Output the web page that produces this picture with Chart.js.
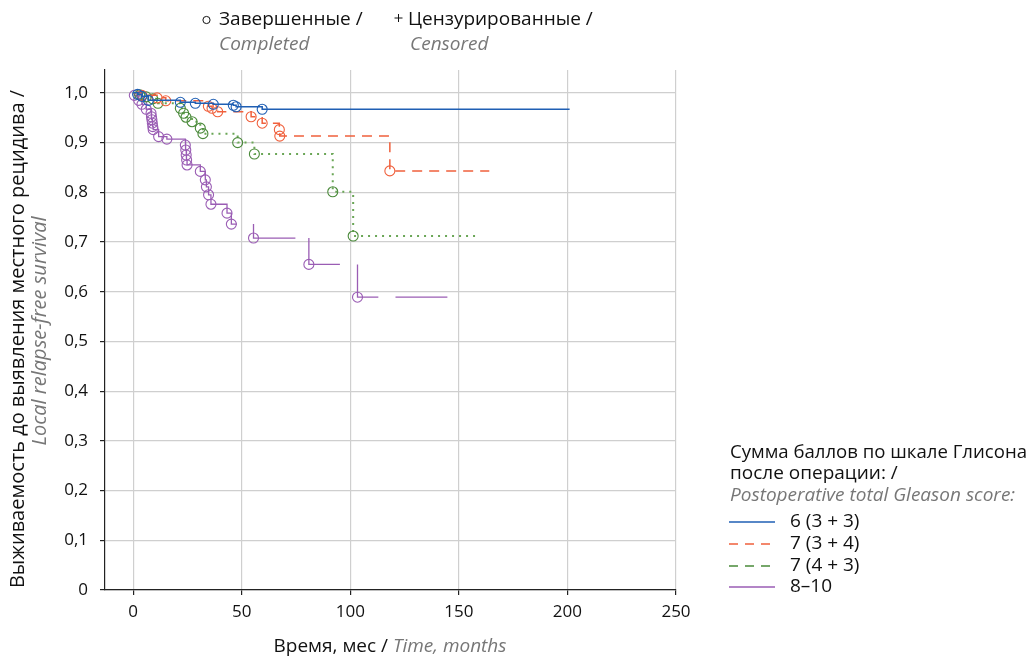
<!DOCTYPE html>
<html><head><meta charset="utf-8">
<script src="https://cdn.jsdelivr.net/npm/chart.js@4.4.1/dist/chart.umd.min.js"></script>
<style>html,body{margin:0;padding:0;background:#fff;}#wrap{width:1030px;height:657px;position:relative;}</style>
</head><body><div id="wrap"><canvas id="c" width="1030" height="657"></canvas></div>
<script>
const FONT = '"Open Sans", "Noto Sans", sans-serif';

// ---- data ----
const xTicks = [0, 50, 100, 150, 200, 250];
const xTickLabels = ['0', '50', '100', '150', '200', '250'];
const yTicks = [0, 0.1, 0.2, 0.3, 0.4, 0.5, 0.6, 0.7, 0.8, 0.9, 1.0];
const yTickLabels = ['0', '0,1', '0,2', '0,3', '0,4', '0,5', '0,6', '0,7', '0,8', '0,9', '1,0'];

const seriesNames = ['6 (3 + 3)', '7 (3 + 4)', '7 (4 + 3)', '8–10'];

const blueT = [2, 4, 7, 21.7, 28.6, 36.9, 46.1, 47.4, 59.4];
const blueS = [0.997, 0.993, 0.985, 0.981, 0.979, 0.977, 0.975, 0.972, 0.967];
const blueEnd = 201;

const redT = [4, 11, 15, 34.6, 36.3, 38.9, 54.3, 59.4, 67.3, 67.5, 118.2];
const redS = [0.995, 0.99, 0.984, 0.973, 0.969, 0.962, 0.952, 0.939, 0.926, 0.913, 0.843];
const redEnd = 164;

const greenT = [3, 6, 9, 11.4, 21.7, 23.2, 24.3, 27.1, 30.9, 32.1, 48.1, 55.8, 91.9, 101.3];
const greenS = [0.996, 0.992, 0.988, 0.979, 0.969, 0.959, 0.951, 0.942, 0.929, 0.918, 0.900, 0.877, 0.801, 0.712];
const greenEnd = 158.5;

const purpleT = [0.5, 2.5, 4, 6, 8.2, 8.4, 8.6, 8.8, 9, 9.2, 11.7, 15.5, 24, 24.2, 24.4, 24.6, 24.8, 30.9, 33.2, 33.7, 34.7, 35.8, 43.2, 45.2, 55.4, 80.9, 103.3];
const purpleS = [0.995, 0.985, 0.977, 0.967, 0.959, 0.952, 0.946, 0.939, 0.932, 0.926, 0.912, 0.907, 0.895, 0.885, 0.875, 0.865, 0.855, 0.842, 0.825, 0.811, 0.795, 0.776, 0.758, 0.736, 0.708, 0.655, 0.589];
const purpleEnd = 144.7;
const purpleGaps = [[47.8, 55.4], [74.7, 80.9], [95.2, 103.3], [112.9, 120.8]];

// ---- build ----
function stepPoints(T, S, endT) {
  const pts = [{x: 0, y: 1}];
  let prev = 1;
  for (let i = 0; i < T.length; i++) {
    pts.push({x: T[i], y: prev});
    pts.push({x: T[i], y: S[i]});
    prev = S[i];
  }
  pts.push({x: endT, y: prev});
  return pts;
}
function applyGaps(pts, gaps) {
  gaps.forEach(([a, b]) => {
    for (let k = 0; k < pts.length - 1; k++) {
      const p = pts[k], q = pts[k + 1];
      if (p.y !== null && q.y !== null && p.y === q.y && p.x <= a && q.x >= b) {
        pts.splice(k + 1, 0, {x: a, y: p.y}, {x: (a + b) / 2, y: null}, {x: b, y: p.y});
        break;
      }
    }
  });
  return pts;
}
const circ = (T, S) => T.map((t, i) => ({x: t, y: S[i]}));

const C = {
  blue: '#1f5fb4', red: '#f0603c', greenLine: '#6aa656', greenPt: '#4a8a3a', purple: '#9a5db4'
};

function lineDs(data, color, width, dash) {
  return {data, borderColor: color, borderWidth: width, borderDash: dash, pointRadius: 0,
    fill: false, tension: 0, spanGaps: false};
}
function ptDs(data, color) {
  return {data, showLine: false, pointRadius: 5, pointBorderWidth: 1.1, pointStyle: 'circle',
    pointBorderColor: color, pointBackgroundColor: 'rgba(0,0,0,0)', borderColor: color};
}

const datasets = [
  ptDs(circ(blueT, blueS), C.blue),
  lineDs(stepPoints(blueT, blueS, blueEnd), C.blue, 1.5, []),
  ptDs(circ(redT, redS), C.red),
  lineDs(stepPoints(redT, redS, redEnd), C.red, 1.5, [10, 7]),
  ptDs(circ(greenT, greenS), C.greenPt),
  lineDs(stepPoints(greenT, greenS, greenEnd), C.greenLine, 2, [2, 5]),
  ptDs(circ(purpleT, purpleS), C.purple),
  lineDs(applyGaps(stepPoints(purpleT, purpleS, purpleEnd), purpleGaps), C.purple, 1.3, []),
];

const textPlugin = {
  id: 'texts',
  afterDraw(chart) {
    const ctx = chart.ctx;
    ctx.save();
    ctx.textBaseline = 'middle';
    ctx.textAlign = 'left';
    const norm = '19px ' + FONT, ital = 'italic 19px ' + FONT;
    // top legend
    ctx.strokeStyle = '#111'; ctx.lineWidth = 1;
    ctx.beginPath(); ctx.arc(206.5, 20, 3.6, 0, Math.PI * 2); ctx.stroke();
    ctx.font = norm; ctx.fillStyle = '#111';
    ctx.fillText('Завершенные /', 219, 20);
    ctx.font = ital; ctx.fillStyle = '#777';
    ctx.fillText('Completed', 219, 45);
    ctx.beginPath(); ctx.moveTo(394.5, 18); ctx.lineTo(402.5, 18); ctx.moveTo(398.5, 14); ctx.lineTo(398.5, 22);
    ctx.strokeStyle = '#111'; ctx.stroke();
    ctx.font = norm; ctx.fillStyle = '#111';
    ctx.fillText('Цензурированные /', 408, 20);
    ctx.font = ital; ctx.fillStyle = '#777';
    ctx.fillText('Censored', 410, 45);

    // x title
    const xa = 'Время, мес / ', xb = 'Time, months';
    ctx.font = norm; const wa = ctx.measureText(xa).width;
    ctx.font = ital; const wb = ctx.measureText(xb).width;
    const x0 = 390 - (wa + wb) / 2;
    ctx.font = norm; ctx.fillStyle = '#111'; ctx.fillText(xa, x0, 647);
    ctx.font = ital; ctx.fillStyle = '#777'; ctx.fillText(xb, x0 + wa, 647);

    // y title
    ctx.save();
    ctx.translate(18, 339); ctx.rotate(-Math.PI / 2);
    ctx.textAlign = 'center';
    ctx.font = '20px ' + FONT; ctx.fillStyle = '#111';
    ctx.fillText('Выживаемость до выявления местного рецидива /', 0, 0);
    ctx.restore();
    ctx.save();
    ctx.translate(40, 331); ctx.rotate(-Math.PI / 2);
    ctx.textAlign = 'center';
    ctx.font = 'italic 20px ' + FONT; ctx.fillStyle = '#777';
    ctx.fillText('Local relapse-free survival', 0, 0);
    ctx.restore();

    // right legend
    ctx.font = norm; ctx.fillStyle = '#111';
    ctx.fillText('Сумма баллов по шкале Глисона', 730, 453, 297);
    ctx.fillText('после операции: /', 730, 474);
    ctx.font = ital; ctx.fillStyle = '#777';
    ctx.fillText('Postoperative total Gleason score:', 730, 496, 290);
    const rows = [522, 544, 566, 587];
    const cols = [C.blue, C.red, C.greenPt, C.purple];
    const dashes = [[], [9, 7], [9, 7], []];
    rows.forEach((y, i) => {
      ctx.beginPath(); ctx.setLineDash(dashes[i]);
      ctx.strokeStyle = cols[i]; ctx.lineWidth = 1.6;
      ctx.moveTo(729, y); ctx.lineTo(775, y); ctx.stroke();
      ctx.setLineDash([]);
      ctx.font = norm; ctx.fillStyle = '#111';
      ctx.fillText(seriesNames[i], 790, y);
    });
    ctx.restore();
  }
};

new Chart(document.getElementById('c'), {
  type: 'line',
  data: {datasets},
  options: {
    responsive: false, animation: false, devicePixelRatio: 1, events: [],
    layout: {padding: {left: 0, right: 354, top: 70, bottom: 0}},
    plugins: {legend: {display: false}, tooltip: {enabled: false}},
    scales: {
      x: {
        type: 'linear', min: -13, max: 250,
        afterFit(s) { s.height = 67; },
        afterBuildTicks(s) { s.ticks = xTicks.map(v => ({value: v})); },
        ticks: {autoSkip: false, maxRotation: 0, padding: 7, color: '#111', font: {family: FONT, size: 17},
          callback: (v, i) => xTickLabels[i]},
        grid: {color: '#cfcfcf', lineWidth: 1.2, tickLength: 5, tickColor: '#222'},
        border: {display: true, color: '#222', width: 1.2}
      },
      y: {
        type: 'linear', min: 0, max: 1.046,
        afterFit(s) { s.width = 105; },
        afterBuildTicks(s) { s.ticks = yTicks.map(v => ({value: v})); },
        ticks: {autoSkip: false, padding: 12, color: '#111', font: {family: FONT, size: 17},
          callback: (v, i) => yTickLabels[i]},
        grid: {color: '#cfcfcf', lineWidth: 1.2, tickLength: 5, tickColor: '#222'},
        border: {display: true, color: '#222', width: 1.2}
      }
    }
  },
  plugins: [textPlugin]
});
</script></body></html>
